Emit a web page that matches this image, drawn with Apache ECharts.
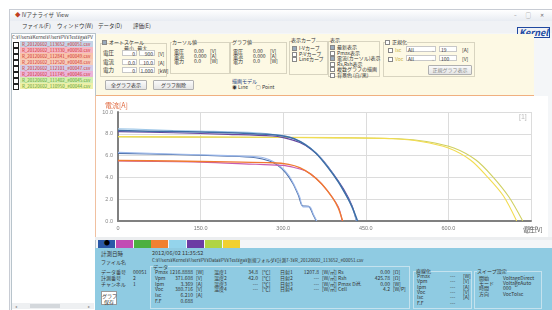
<!DOCTYPE html>
<html>
<head>
<meta charset="utf-8" />
<title>IVアナライザ View</title>
<script src="https://cdn.jsdelivr.net/npm/echarts@6/dist/echarts.min.js"></script>
<style>
  html, body { margin: 0; padding: 0; background: #fff; }
  #app { position: relative; width: 552px; height: 310px; overflow: hidden;
         font-family: "Noto Sans CJK JP", "Noto Sans", sans-serif; font-size: 5px; color: #333; }
  .abs { position: absolute; white-space: nowrap; line-height: 1; }
  .box { position: absolute; border: 1px solid #d8d4c0; }
  .btn { position: absolute; background: linear-gradient(#fafafa, #e4e4e4); border: 1px solid #b0b0b0;
         border-radius: 1px; font-size: 5px; text-align: center; line-height: 8px; }
  .cb { display: inline-block; width: 3px; height: 3px; border: 1px solid #888; background: #fff;
        vertical-align: middle; margin-right: 2px; }
  #main { position: absolute; left: 95px; top: 97px; width: 452px; height: 141px; }
</style>
</head>
<body>
<div id="app">
  <!-- window frame -->
  <div class="abs" style="left:9px;top:9px;width:543px;height:301px;border:1px solid #c8ccd4;border-right:none;border-bottom:none;background:#f4f6f8;"></div>
  <div class="abs" style="left:10px;top:10px;width:542px;height:11px;background:linear-gradient(#ffffff,#e8ecf2);"></div>
  <div class="abs" style="left:15px;top:13px;font-size:5.5px;color:#444;"><span style="color:#c04020">◆</span> IVアナライザ&nbsp;&nbsp;View</div>
  <div class="abs" style="left:514px;top:12px;font-size:5px;color:#666;letter-spacing:4px;">– ▢ ✕</div>
  <div class="abs" style="left:10px;top:21px;width:542px;height:12px;background:#f0f2f5;"></div>
  <div class="abs" style="left:22px;top:24px;font-size:5.5px;">ファイル(F)</div>
  <div class="abs" style="left:57px;top:24px;font-size:5.5px;">ウィンドウ(W)</div>
  <div class="abs" style="left:98px;top:24px;font-size:5.5px;">データ(D)</div>
  <div class="abs" style="left:133px;top:24px;font-size:5.5px;">評価(E)</div>
  <div class="abs" style="left:517px;top:27px;font-size:9px;font-weight:bold;color:#2048a0;font-style:italic;border:1px solid #2048a0;padding:0 1px;">Kernel</div>

  <!-- left file list -->
  <div class="abs" style="left:11px;top:33px;width:83px;height:277px;background:#fff;border:1px solid #b8c4cc;"></div>
  <div class="abs" style="left:12px;top:303px;width:82px;height:6px;background:#eef0f2;"></div>
  <div class="abs" style="left:30px;top:304px;width:30px;height:4px;background:#d4d8dc;"></div>
  <div class="abs" style="left:15px;top:304px;font-size:4px;color:#888;">◂</div>
  <div class="abs" style="left:88px;top:304px;font-size:4px;color:#888;">▸</div>

  <!-- top control panel -->
  <div class="abs" style="left:96px;top:34px;width:438px;height:61px;background:#fdf9e4;border-bottom:1px solid #f0b080;"></div>
  <div class="box" style="left:100px;top:43px;width:65px;height:32px;"></div>
  <div class="abs" style="left:102px;top:39px;"><span class="cb" style="background:#9ab"></span>オートスケール</div>
  <div class="abs" style="left:124px;top:45px;">最小&nbsp;&nbsp;&nbsp;最大</div>
  <div class="btn" style="left:105px;top:80px;width:40px;height:8px;">全グラフ表示</div>
  <div class="btn" style="left:153px;top:80px;width:39px;height:8px;">グラフ削除</div>

  <div class="box" style="left:170px;top:42px;width:58px;height:30px;"></div>
  <div class="abs" style="left:172px;top:39px;background:#fdf9e4;">カーソル値</div>
  <div class="box" style="left:230px;top:42px;width:55px;height:30px;"></div>
  <div class="abs" style="left:232px;top:39px;background:#fdf9e4;">グラフ値</div>
  <div class="abs" style="left:232px;top:78px;color:#204080;">描画モデル</div>
  <div class="abs" style="left:232px;top:84px;">◉ Line&nbsp;&nbsp;&nbsp;&nbsp;&nbsp;&nbsp;&nbsp;○ Point</div>

  <div class="box" style="left:289px;top:41px;width:37px;height:32px;"></div>
  <div class="abs" style="left:291px;top:37px;background:#fdf9e4;">表示カーブ</div>
  <div class="box" style="left:328px;top:41px;width:50px;height:34px;"></div>
  <div class="abs" style="left:330px;top:37px;background:#fdf9e4;">表示</div>

  <div class="box" style="left:383px;top:42px;width:90px;height:33px;"></div>
  <div class="abs" style="left:385px;top:39px;background:#fdf9e4;"><span class="cb"></span>正規化</div>
  <div class="btn" style="left:428px;top:65px;width:42px;height:8px;color:#888;">正規グラフ表示</div>

  <!-- chart area -->
  <div class="abs" style="left:95px;top:96px;width:452px;height:142px;background:#fff;border-left:1px solid #f0c0a0;"></div>
  <div class="abs" style="left:95px;top:237px;width:457px;height:3px;background:#eceef0;"></div>
  <div id="main"></div>

  <!-- bottom info panel -->
  <div class="abs" style="left:95px;top:248px;width:457px;height:62px;background:#8fcbe2;"></div>
</div>

<script type="text/javascript">
  // ---- data ----
  var listNames = ['R_20120602_113652_#00051.csv', 'R_20120602_113330_#00050.csv', 'R_20120602_112841_#00049.csv',
                   'R_20120602_112520_#00048.csv', 'R_20120602_112101_#00047.csv', 'R_20120602_111745_#00046.csv',
                   'R_20120602_111402_#00045.csv', 'R_20120602_110950_#00044.csv'];
  var listColors = ['#c4d4e6', '#f6b8c4', '#f8c4ac', '#f6ccb8', '#d4cce6', '#ecb4d8', '#d6eeb0', '#eef0a8'];
  var swatchColors = ['#2a58a8', '#c24cb4', '#4cb040', '#f08030', '#94d4ec', '#6c3ca4', '#b0d444', '#f2d030'];

  var xTicks = [0, 150, 300, 450, 600, 750];
  var yTicks = [0, 2, 4, 6, 8, 10];

  // I-V curves, [voltage V, current A]
  var curveBlue = [[0, 8.3], [100, 8.2], [200, 8.1], [270, 7.95], [300, 7.8], [320, 7.55], [340, 7.0], [360, 6.2],
                   [380, 5.0], [400, 3.6], [415, 2.3], [425, 1.3], [435, 0]];
  var curveLightBlue = [[0, 8.45], [50, 8.4], [100, 8.3], [150, 8.25], [250, 8.1], [290, 7.9], [310, 7.7], [340, 7.05],
                        [360, 6.25], [380, 5.05], [400, 3.6], [415, 2.3], [425, 1.3], [433, 0]];
  var curvePurple = [[0, 8.2], [100, 8.1], [200, 7.95], [280, 7.8], [300, 7.65], [330, 7.2], [350, 6.6], [370, 5.7],
                     [390, 4.4], [410, 2.9], [425, 1.4], [433, 0]];
  var curveYellow = [[0, 7.75], [200, 7.7], [400, 7.65], [500, 7.55], [550, 7.3], [600, 6.7], [640, 5.6], [670, 4.1],
                     [700, 2.3], [724, 0]];
  var curveYellowGreen = [[0, 7.7], [200, 7.68], [400, 7.62], [510, 7.55], [560, 7.3], [610, 6.7], [650, 5.6],
                          [680, 4.1], [710, 2.2], [735, 0]];
  var curveOrange = [[0, 5.55], [100, 5.5], [200, 5.42], [280, 5.35], [310, 5.2], [330, 4.9], [350, 4.3], [370, 3.4],
                     [390, 2.1], [400, 1.2], [408, 0]];
  var curveMagenta = [[0, 5.5], [150, 5.4], [250, 5.2], [300, 5.1], [320, 4.9], [340, 4.6], [360, 3.9], [380, 2.8],
                      [400, 1.3], [407, 0]];
  var curveLowBlue = [[0, 6.3], [100, 6.15], [200, 6.0], [260, 5.85], [280, 5.5], [295, 5.0], [310, 4.2], [320, 3.3],
                      [330, 2.2], [336, 1.3], [348, 1.3], [355, 0.6], [361, 0]];
  var curveLowDark = [[0, 6.2], [100, 6.1], [200, 5.95], [250, 5.8], [275, 5.5], [290, 5.1], [305, 4.4], [318, 3.4],
                      [328, 2.3], [335, 1.4], [346, 1.35], [354, 0.6], [360, 0]];

  // ---- UI helpers ----
  var app = document.getElementById('app');
  function txt(x, y, s, style) {
    var d = document.createElement('div');
    d.className = 'abs';
    d.style.left = x + 'px';
    d.style.top = y + 'px';
    if (style) d.style.cssText += style;
    d.innerHTML = s;
    app.appendChild(d);
    return d;
  }
  function inp(x, y, w, s) {
    return txt(x, y, s, 'width:' + w + 'px;height:6px;background:#fff;border:1px solid #c8c8c8;text-align:right;line-height:6px;padding-right:1px;box-sizing:border-box;');
  }

  // file list
  txt(12, 35, 'C:¥Users¥Kernel¥User¥PV¥Test¥ga¥PV', 'font-size:4.5px;color:#333;');
  listNames.forEach(function (n, i) {
    var y = 41 + i * 6;
    txt(20, y, '', 'width:73px;height:5.5px;background:' + listColors[i] + ';');
    txt(13, y + 0.5, '', 'width:4px;height:4px;border:1px solid #222;background:#fff;');
    txt(22, y + 0.5, n, 'font-size:4.5px;color:' + (i < 6 ? '#d03030' : '#58a030') + ';');
  });

  // auto scale inputs
  [['電圧', '0', '900', '[V]'], ['電流', '0.0', '10.0', '[A]'], ['電力', '0', '1.000', '[kW]']].forEach(function (r, i) {
    var y = 51 + i * 8.5;
    txt(103, y, r[0], 'font-size:5.5px;');
    inp(122, y - 1, 15, r[1]);
    inp(139, y - 1, 16, r[2]);
    txt(158, y, r[3]);
  });

  // cursor / graph values
  [['電圧', '0.00', '[V]'], ['電流', '0.000', '[A]'], ['電力', '0.0', '[W]']].forEach(function (r, i) {
    var y = 48 + i * 5;
    txt(174, y, r[0]); txt(194, y, r[1]); txt(210, y, r[2]);
    txt(233, y, r[0]); txt(253, y, r[1]); txt(270, y, r[2]);
  });

  // curve and display checkboxes
  [['I-Vカーブ', 1], ['P-Vカーブ', 0], ['Lineカーブ', 0]].forEach(function (r, i) {
    txt(292, 45 + i * 5.5, '<span class="cb" style="' + (r[1] ? 'background:#9ab' : '') + '"></span>' + r[0]);
  });
  [['最新表示', 1], ['Pmax表示', 0], ['電流(カーソル)表示', 1], ['Rs,Rsh表示', 0], ['複数グラフの描画', 0], ['背景色 (白/黒)', 0]].forEach(function (r, i) {
    txt(330, 44 + i * 5.5, '<span class="cb" style="' + (r[1] ? 'background:#9ab' : '') + '"></span>' + r[0]);
  });

  // normalize rows
  [['Isc', '19', '[A]'], ['Voc', '100', '[V]']].forEach(function (r, i) {
    var y = 47 + i * 8.5;
    txt(388, y, '<span class="cb"></span><span style="color:#c8b040">' + r[0] + '</span>');
    txt(406, y - 1, 'All<span style="float:right;color:#999">⌄</span>', 'width:30px;height:6px;background:#fff;border:1px solid #c8c8c8;line-height:6px;padding-left:1px;box-sizing:border-box;');
    txt(439, y - 1, r[1], 'width:18px;height:6px;background:#fff;border:1px solid #c8c8c8;line-height:6px;padding-left:1px;box-sizing:border-box;');
    txt(462, y, r[2]);
  });

  // swatches below chart
  swatchColors.forEach(function (c, i) {
    txt(98 + i * 17.8, 240, '', 'width:17px;height:8px;background:' + c + ';');
  });
  txt(104, 240, '●', 'font-size:6px;color:#000;');

  // bottom info
  txt(101, 252, '計測日時', 'font-size:5.5px;');
  txt(101, 259, 'ファイル名');
  txt(152, 251, '2012/06/02 11:35:52', 'font-size:5.5px;');
  txt(152, 258, 'C:¥Users¥Kernel¥User¥PV¥Data¥PV¥Test¥ga¥新規フォルダ¥計測7-3¥R_20120602_113652_#00051.csv', 'font-size:4.5px;');
  [['データ番号', '00051'], ['計測番号', '2'], ['チャンネル', '1']].forEach(function (r, i) {
    txt(101, 269 + i * 6, r[0]); txt(133, 269 + i * 6, r[1]);
  });
  txt(101, 291, 'グラフ<br>保存', 'width:16px;height:14px;background:#fff;border:1px solid #999;text-align:center;line-height:6px;padding-top:1px;box-sizing:border-box;');

  txt(150, 266, '', 'width:258px;height:41px;border:1px solid #c4e2ee;');
  txt(153, 264, 'データ', 'background:#8fcbe2;');
  var dataRows = [['Pmax', '1216.8888', '[W]'], ['Vpm', '371.608', '[V]'], ['Ipm', '3.369', '[A]'],
                  ['Voc', '380.716', '[V]'], ['Isc', '6.210', '[A]'], ['F.F', '0.688', '']];
  var tempRows = [['温度1', '34.8', '[℃]'], ['温度2', '42.0', '[℃]'], ['温度3', '---', '[℃]'], ['温度4', '---', '[℃]']];
  var sunRows = [['日射1', '1207.8', '[W/㎡]'], ['日射2', '---', '[W/㎡]'], ['日射3', '---', '[W/㎡]'], ['日射4', '---', '[W/㎡]']];
  var resRows = [['Rs', '0.00', '[Ω]'], ['Rsh', '425.78', '[Ω]'], ['Pmax Diff.', '0.00', '[W]'], ['Cell', '4.2', '[W/P]']];
  dataRows.forEach(function (r, i) {
    var y = 269 + i * 5.8;
    txt(155, y, r[0]); txt(167, y, r[1], 'width:26px;text-align:right;'); txt(196, y, r[2]);
  });
  tempRows.forEach(function (r, i) {
    var y = 269 + i * 5.8;
    txt(214, y, r[0]); txt(244, y, r[1], 'width:14px;text-align:right;'); txt(262, y, r[2]);
  });
  sunRows.forEach(function (r, i) {
    var y = 269 + i * 5.8;
    txt(280, y, r[0]); txt(303, y, r[1], 'width:16px;text-align:right;'); txt(322, y, r[2]);
  });
  resRows.forEach(function (r, i) {
    var y = 269 + i * 5.8;
    txt(338, y, r[0]); txt(372, y, r[1], 'width:18px;text-align:right;'); txt(393, y, r[2]);
  });

  txt(413, 271, '', 'width:57px;height:36px;border:1px solid #c4e2ee;');
  txt(416, 268, '直線化', 'background:#8fcbe2;');
  ['Pmax', 'Vpm', 'Ipm', 'Voc', 'Isc', 'F.F'].forEach(function (n, i) {
    var y = 273 + i * 5.3;
    txt(417, y, n); txt(450, y, '---'); if (i < 5) txt(463, y, ['[W]', '[V]', '[A]', '[V]', '[A]'][i]);
  });
  txt(474, 271, '', 'width:66px;height:36px;border:1px solid #c4e2ee;');
  txt(477, 268, 'スイープ設定', 'background:#8fcbe2;');
  [['開始', 'VoltageDirect'], ['モード', 'VoltageAuto'], ['時間', '000'], ['方向', 'VocToIsc']].forEach(function (r, i) {
    var y = 275 + i * 5.2;
    txt(479, y, r[0]); txt(503, y, r[1]);
  });

  // ---- chart ----
  var chartDom = document.getElementById('main');
  var myChart = echarts.init(chartDom, null, { renderer: 'canvas' });

  function line(data, color, w) {
    return {
      type: 'line',
      data: data,
      showSymbol: false,
      smooth: 0.3,
      lineStyle: { color: color, width: w || 1.1 },
      silent: true
    };
  }

  var option = {
    animation: false,
    grid: { left: 23, right: 16, top: 15, bottom: 17 },
    xAxis: {
      type: 'value',
      min: xTicks[0],
      max: xTicks[xTicks.length - 1],
      interval: 150,
      axisLine: { onZero: false, lineStyle: { color: '#808080', width: 2 } },
      axisTick: { show: false },
      axisLabel: {
        fontSize: 5.5, color: '#777', margin: 4,
        formatter: function (v) { return v === 0 ? '0' : v.toFixed(1); }
      },
      splitLine: { show: true, lineStyle: { color: '#dcdcdc', width: 1 } }
    },
    yAxis: {
      type: 'value',
      min: yTicks[0],
      max: yTicks[yTicks.length - 1],
      interval: 2,
      axisLine: { show: true, lineStyle: { color: '#808080', width: 2 } },
      axisTick: { show: false },
      axisLabel: { fontSize: 5.5, color: '#888', margin: 5, formatter: function (v) { return v.toFixed(1); } },
      splitLine: { show: true, lineStyle: { color: '#dcdcdc', width: 1 } }
    },
    graphic: [
      { type: 'text', left: 10, top: 5, style: { text: '電流[A]', fontSize: 7, fill: '#e06a40', fontFamily: 'Noto Sans CJK JP' } },
      { type: 'text', left: 428, top: 130, style: { text: '電圧[V]', fontSize: 6, fill: '#555', fontFamily: 'Noto Sans CJK JP' } },
      { type: 'text', left: 424, top: 17, style: { text: '[1]', fontSize: 7, fill: '#bbb' } }
    ],
    series: [
      line(curveLowDark, '#4c6fa8'),
      line(curveLowBlue, '#9cb8ea'),
      line(curveMagenta, '#c85cb0'),
      line(curveOrange, '#f07a30', 1.4),
      line(curveYellowGreen, '#d0d060'),
      line(curveYellow, '#f2dc50'),
      line(curvePurple, '#6a48a0'),
      line(curveLightBlue, '#a0c8e8'),
      line(curveBlue, '#3e6ea6', 1.5)
    ]
  };
  myChart.setOption(option);
</script>
</body>
</html>
